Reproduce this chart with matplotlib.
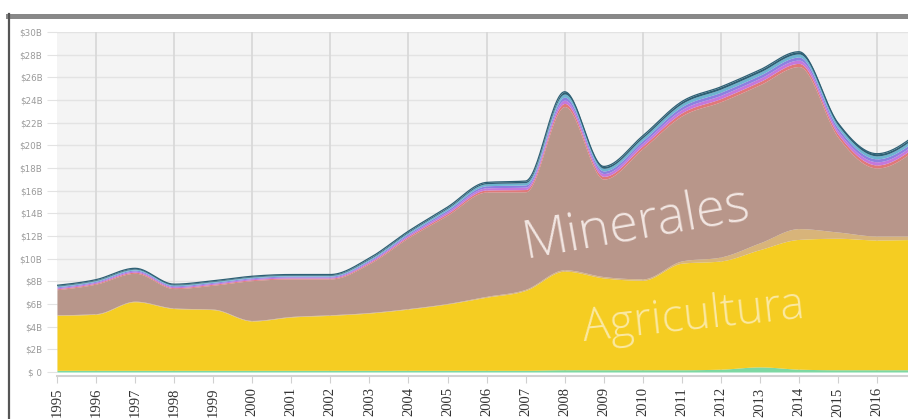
import matplotlib as mpl
mpl.use('Agg')
import matplotlib.pyplot as plt
from matplotlib.lines import Line2D
import numpy as np

### yearly values, in billions of dollars (bottom layer first)
years = np.arange(1995, 2018)
green   = [0.15,0.15,0.15,0.15,0.15,0.15,0.15,0.15,0.15,0.15,0.15,0.15,0.15,0.2,0.2,0.2,0.2,0.25,0.45,0.25,0.2,0.2,0.2]
yellow  = [4.85,4.95,6.05,5.45,5.35,4.35,4.7,4.85,5.05,5.4,5.85,6.45,7.05,8.7,8.1,7.9,9.4,9.55,10.35,11.45,11.6,11.45,11.5]
tan     = [0.05,0.05,0.05,0.05,0.05,0.05,0.05,0.05,0.05,0.05,0.05,0.08,0.1,0.12,0.12,0.12,0.2,0.35,0.6,0.95,0.55,0.35,0.3]
brown   = [2.21,2.61,2.46,1.71,2.11,3.51,3.31,3.16,4.31,6.25,7.79,9.2,8.6,14.4,8.6,11.5,12.8,13.7,13.95,14.3,8.36,6.0,7.7]
red     = [0.08,0.08,0.09,0.08,0.08,0.08,0.08,0.08,0.10,0.12,0.15,0.18,0.20,0.28,0.24,0.24,0.27,0.28,0.28,0.28,0.27,0.27,0.27]
magenta = [0.09,0.09,0.10,0.09,0.09,0.09,0.09,0.09,0.11,0.13,0.16,0.19,0.21,0.29,0.25,0.25,0.28,0.29,0.29,0.29,0.28,0.28,0.28]
purple  = [0.08,0.08,0.09,0.08,0.08,0.08,0.08,0.08,0.10,0.12,0.15,0.18,0.20,0.27,0.23,0.23,0.26,0.27,0.27,0.27,0.26,0.26,0.26]
blue    = [0.08,0.08,0.09,0.08,0.08,0.08,0.08,0.08,0.10,0.12,0.15,0.18,0.20,0.27,0.23,0.23,0.26,0.27,0.27,0.27,0.26,0.26,0.26]
dark    = [0.06,0.06,0.07,0.06,0.06,0.06,0.06,0.06,0.08,0.09,0.10,0.12,0.14,0.20,0.17,0.17,0.19,0.20,0.20,0.20,0.19,0.19,0.19]

layers = [green, yellow, tan, brown, red, magenta, purple, blue, dark]
colors = ['#7dd8a3','#f5cd22','#d8b47a','#b8968a','#e07878','#c578dc','#8c80e0','#6db4d0','#2e6075']
ytick_vals = np.arange(0, 31, 2)
ytick_labels = ['$ 0'] + ['$%dB' % v for v in ytick_vals[1:]]
xtick_years = np.arange(1995, 2017)


def monotone(x, y, n=30):
    # monotone cubic curve (like d3.curveMonotoneX)
    x = np.asarray(x, float); y = np.asarray(y, float)
    h = np.diff(x); s = np.diff(y) / h
    m = np.zeros_like(y)
    p = (s[:-1]*h[1:] + s[1:]*h[:-1]) / (h[:-1] + h[1:])
    m[1:-1] = (np.sign(s[:-1]) + np.sign(s[1:])) * np.minimum(np.minimum(abs(s[:-1]), abs(s[1:])), 0.5*abs(p))
    m[0] = (3*s[0] - m[1]) / 2
    m[-1] = (3*s[-1] - m[-2]) / 2
    xs, ys = [], []
    for i in range(len(x)-1):
        t = np.linspace(0, 1, n, endpoint=False)
        h00 = 2*t**3 - 3*t**2 + 1; h10 = t**3 - 2*t**2 + t
        h01 = -2*t**3 + 3*t**2; h11 = t**3 - t**2
        xs.append(x[i] + t*h[i])
        ys.append(h00*y[i] + h10*h[i]*m[i] + h01*y[i+1] + h11*h[i]*m[i+1])
    xs.append([x[-1]]); ys.append([y[-1]])
    return np.concatenate(xs), np.concatenate(ys)


fig = plt.figure(figsize=(9.08, 4.19), dpi=100)
ax = fig.add_axes([57/908., 47/419., 851/908., 340/419.])
ax.set_facecolor('#f4f4f4')

# spines first (set_position resets the tick labels)
for s in ['top', 'right', 'left']:
    ax.spines[s].set_visible(False)
ax.spines['bottom'].set_position(('outward', 3))
ax.spines['bottom'].set_color('#d2d2d2')
ax.spines['bottom'].set_linewidth(1.5)

cum = np.cumsum(np.array(layers), axis=0)
prev = None
for k in range(len(layers)):
    xs, top = monotone(years, cum[k])
    bot = np.zeros_like(top) if prev is None else prev
    ax.fill_between(xs, bot, top, color=colors[k], lw=0, zorder=3)
    prev = top
ax.plot(xs, prev, color=colors[-1], lw=0.9, zorder=4)  # dark outline on top

ax.set_xlim(1995, 1995 + 851/39.05)
ax.set_ylim(0, 30)

# grid
for v in ytick_vals:
    ax.axhline(v, color='#e3e3e3', lw=1, zorder=1)
for yr in range(1996, 2018, 2):
    ax.axvline(yr, color='#d9d9d9', lw=1.3, zorder=1)

ax.tick_params(axis='y', length=7, color='#e3e3e3', pad=3.5, labelsize=6.3, labelcolor='#999999')
ax.tick_params(axis='x', length=5, color='#d0d0d0', pad=3)
ax.set_yticks(ytick_vals)
ax.set_yticklabels(ytick_labels)
ax.set_xticks(xtick_years)
ax.set_xticklabels([str(y) for y in xtick_years], rotation=90, family='Liberation Serif',
                   fontsize=10.5, color='#333333')

ax.text(2009.85, 13.0, 'Minerales', rotation=10, rotation_mode='anchor', ha='center', va='center',
        fontsize=38, family='Open Sans', fontweight='light', color='#f2e6e2', zorder=5)
ax.text(2011.3, 4.8, 'Agricultura', rotation=6, rotation_mode='anchor', ha='center', va='center',
        fontsize=33, family='Open Sans', fontweight='light', color='#fbe9a2', zorder=5)

# page frame
fig.add_artist(Line2D([8/908., 1.0], [1 - 16.5/419., 1 - 16.5/419.], color='#888888', lw=3.6))
fig.add_artist(Line2D([9/908., 9/908.], [0, 1 - 14/419.], color='#555555', lw=1.6))

plt.savefig('out.png', dpi=100)
